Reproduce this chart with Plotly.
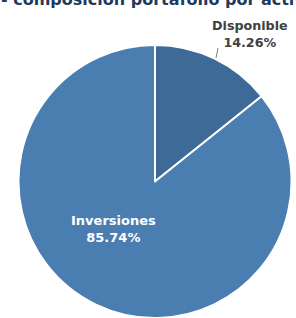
import plotly.graph_objects as go

labels = ["Disponible", "Inversiones"]
values = [14.26, 85.74]
colors = ["#3d6a97", "#4a7db0"]
title_text = "- composición portafolio por activo"

W, H = 296, 318
ML, MR, MT, MB = 18, 4, 45, 0
PW, PH = W - ML - MR, H - MT - MB

def px2paper(x, y):
    return (x - ML) / PW, 1 - (y - MT) / PH

fig = go.Figure()
fig.add_trace(go.Pie(
    labels=labels,
    values=values,
    sort=False,
    direction="clockwise",
    rotation=0,
    marker=dict(colors=colors, line=dict(color="white", width=2)),
    textinfo="none",
    showlegend=False,
    hoverinfo="skip",
))

# Disponible label (outside)
tx, ty = px2paper(250, 34)
fig.add_annotation(
    x=tx, y=ty, xref="paper", yref="paper",
    text=f"<b>{labels[0]}<br>{values[0]:.2f}%</b>",
    showarrow=False, align="center",
    font=dict(family="DejaVu Sans", size=12.7, color="#404040"),
    xanchor="center", yanchor="middle",
)
x0, y0 = px2paper(216, 58)
x1, y1 = px2paper(218, 48)
fig.add_shape(type="line", xref="paper", yref="paper", x0=x0, y0=y0, x1=x1, y1=y1,
              line=dict(color="#808080", width=1))

# Inversiones label (inside)
ix, iy = px2paper(113, 229)
fig.add_annotation(
    x=ix, y=iy, xref="paper", yref="paper",
    text=f"<b>{labels[1]}<br>{values[1]:.2f}%</b>",
    showarrow=False, align="center",
    font=dict(family="DejaVu Sans", size=13, color="white"),
    xanchor="center", yanchor="middle",
)

ttx, tty = px2paper(-1, 11.5)
fig.add_annotation(
    x=ttx, y=tty, xref="paper", yref="paper",
    text=f"<b>{title_text}</b>", showarrow=False,
    font=dict(family="DejaVu Sans", size=16, color="#1f3a60"),
    xanchor="left", yanchor="bottom",
)

fig.update_layout(
    width=W, height=H,
    margin=dict(l=ML, r=MR, t=MT, b=MB, autoexpand=False),
    paper_bgcolor="white", plot_bgcolor="white",
)
fig.write_html("out.html", config={"displayModeBar": False},
               post_script="document.body.style.margin='0';document.body.style.overflow='hidden';")
